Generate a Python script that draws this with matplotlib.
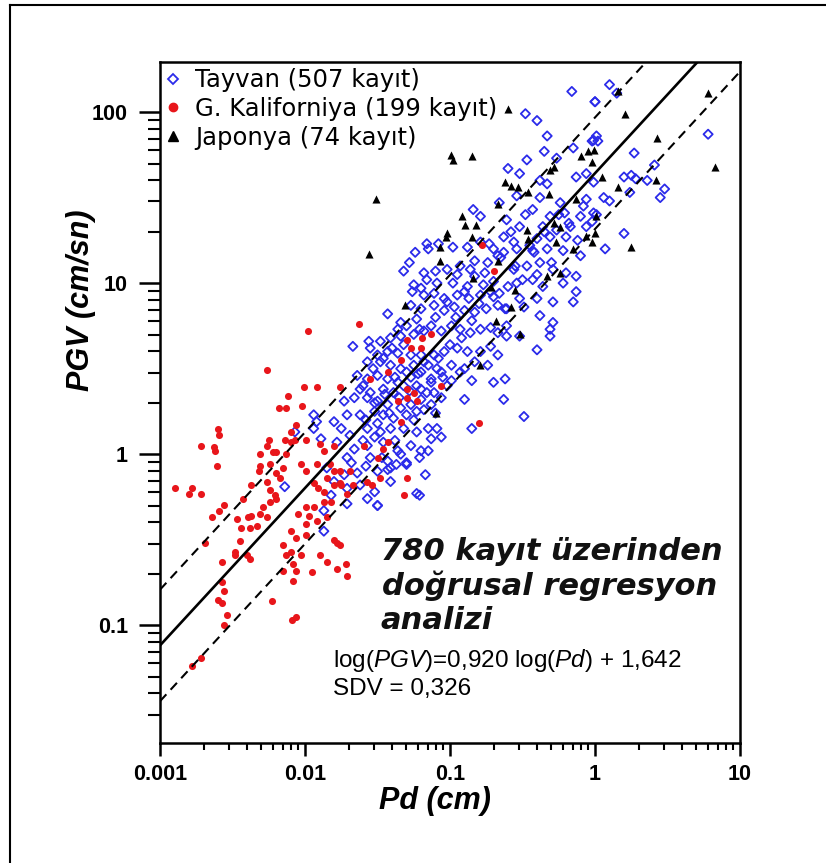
import numpy as np
import matplotlib
matplotlib.use("Agg")
import matplotlib.pyplot as plt
from matplotlib.lines import Line2D

# ---------------- data (log10 values) ----------------
# Taiwan (507 records) : log10(Pd [cm]), log10(PGV [cm/s])
taiwan_log_pd = [
    -1.16, -1.08, -0.98, -0.88, -0.79, -0.73, -1.24, -1.15, -1.32, -1.28, -1.18, -1.10, -1.02, -0.93,
    -0.83, -0.74, -0.67, -1.25, -1.20, -1.16, -1.09, -0.98, -0.88, -0.83, -0.77, -0.70, -1.26, -1.18,
    -1.11, -1.04, -0.95, -0.87, -0.79, -0.72, -1.43, -1.27, -1.20, -1.11, -1.02, -0.97, -0.90, -0.83,
    -0.75, -0.67, -1.34, -1.23, -1.36, -1.30, -1.21, -1.13, -1.06, -0.99, -0.93, -0.86, -0.79, -0.72,
    -0.67, -1.56, -1.48, -1.41, -1.34, -1.67, -1.55, -1.50, -1.43, -1.36, -1.27, -1.20, -1.11, -1.04,
    -0.95, -0.88, -0.79, -0.72, -0.67, -1.57, -1.48, -1.41, -1.34, -1.25, -1.18, -1.09, -0.99, -0.90,
    -0.83, -0.74, -1.64, -1.57, -1.50, -1.43, -1.36, -1.27, -1.20, -1.13, -1.06, -0.99, -0.93, -0.85,
    -0.70, -1.62, -1.55, -1.46, -1.39, -1.32, -1.23, -1.16, -1.11, -1.02, -0.90, -1.73, -1.66, -1.57,
    -1.50, -1.43, -1.34, -1.27, -1.20, -1.13, -1.06, -1.71, -1.62, -1.52, -1.46, -1.39, -1.30, -1.23,
    -1.15, -1.09, -1.13, -1.06, -0.85, -1.94, -1.92, -1.80, -1.75, -1.94, -1.69, -1.57, -1.48, -1.41,
    -1.32, -1.23, -1.89, -1.78, -1.66, -1.57, -1.46, -1.36, -1.27, -1.20, -1.15, -1.71, -1.55, -1.43,
    -1.34, -1.21, -1.85, -1.73, -1.64, -1.50, -1.41, -1.30, -1.17, -1.80, -1.71, -1.62, -1.52, -1.41,
    -1.21, -1.57, -1.71, -1.50, -1.82,
    -0.16, 0.00, -0.48, -0.40, -0.33, -0.35, -0.47, -0.60, -0.52, -0.265, -0.15, -0.02, 0.01, -0.13,
    -0.06, -0.01, -0.38, -0.33, -0.54, -0.24, -0.06, -0.10, -0.84, -0.79, -0.66, -0.43, -0.31, -0.21,
    -0.01, -0.61, -0.52, -0.36, -0.265, -0.17, -0.06, -0.63, -0.56, -0.40, -0.31, -0.20, -0.63, -0.54,
    -0.43, -0.33, -0.22, -0.10, -0.56, -0.47, -0.38, -0.29, -0.20, -0.13, -0.54, -0.43, -0.36, -0.22,
    -0.13, -0.66, -0.52, -0.40, -0.29, -0.15, -0.61, -0.49, -0.38, -0.29, -0.61, -0.52, -0.31, -0.61,
    -0.40, -0.31, -0.62, -0.63, -0.49,
    0.10, 0.15, 0.00, -0.01, 0.02, 0.27, 0.41, 0.20, 0.25, 0.28, 0.36, 0.48, 0.24, 0.45, 0.06, 0.10,
    0.01, 0.20, 0.07, 0.78, -0.02,
    -1.87, -1.87, -2.14, -2.07, -1.50, -1.23, -1.30, -1.43,
    -1.60, -1.53, -1.46, -1.40, -1.32, -1.25, -1.18, -1.10, -1.04, -0.96, -1.52, -1.45, -1.38, -1.30,
    -1.22, -1.15, -1.08, -1.00, -0.92, -1.58, -1.50, -1.42, -1.35, -1.28, -1.20, -1.13, -1.05, -1.60,
    -1.52, -1.38, -1.25, -1.18, -1.10, -1.68, -1.58, -1.47, -1.37,
    -0.95, -0.90, -0.86, -0.80, -0.76, -0.70, -0.65, -0.60, -0.55, -0.50, -0.45, -0.40, -0.35, -0.30,
    -0.25, -0.18, -0.12, -0.08, -0.70, -0.58, -0.48, -0.38, -0.42, -0.62, -0.85,
]
taiwan_log_pgv = [
    1.23, 1.23, 1.21, 1.21, 1.24, 1.23, 1.18, 1.20, 1.07, 1.12, 1.06, 1.07, 1.08, 1.10,
    1.13, 1.12, 1.16, 0.99, 0.97, 1.02, 1.00, 1.00, 0.98, 1.04, 0.99, 1.01, 0.95, 0.93,
    0.94, 0.91, 0.93, 0.91, 0.93, 0.95, 0.82, 0.87, 0.85, 0.87, 0.89, 0.86, 0.84, 0.83,
    0.85, 0.87, 0.77, 0.79, 0.73, 0.75, 0.73, 0.75, 0.72, 0.75, 0.73, 0.71, 0.73, 0.74,
    0.71, 0.66, 0.66, 0.68, 0.69, 0.63, 0.62, 0.58, 0.60, 0.59, 0.58, 0.58, 0.58, 0.60,
    0.62, 0.60, 0.60, 0.63, 0.58, 0.54, 0.54, 0.52, 0.50, 0.52, 0.54, 0.50, 0.52, 0.50,
    0.54, 0.52, 0.46, 0.44, 0.46, 0.44, 0.42, 0.45, 0.48, 0.44, 0.48, 0.43, 0.48, 0.43,
    0.42, 0.38, 0.36, 0.38, 0.36, 0.40, 0.40, 0.36, 0.36, 0.40, 0.32, 0.31, 0.33, 0.33,
    0.31, 0.29, 0.27, 0.29, 0.32, 0.29, 0.33, 0.23, 0.23, 0.25, 0.23, 0.21, 0.23, 0.25,
    0.15, 0.15, 0.09, 0.10, 0.15, 0.23, 0.19, 0.19, 0.15, 0.15, 0.11, 0.15, 0.13, 0.15,
    0.15, 0.13, 0.09, 0.07, 0.03, 0.05, 0.07, 0.02, 0.05, 0.02, 0.02, -0.02, -0.02, -0.04,
    0.00, -0.02, -0.08, -0.12, -0.11, -0.10, -0.08, -0.06, -0.12, -0.16, -0.20, -0.18, -0.22, -0.16,
    -0.24, -0.26, -0.29, -0.30, -0.24,
    2.12, 2.06, 1.99, 1.95, 1.86, 1.77, 1.72, 1.67, 1.64, 1.73, 1.79, 1.83, 1.86, 1.62,
    1.64, 1.59, 1.60, 1.58, 1.51, 1.47, 1.49, 1.39, 1.43, 1.39, 1.47, 1.43, 1.39, 1.41,
    1.41, 1.37, 1.33, 1.33, 1.31, 1.33, 1.33, 1.27, 1.24, 1.26, 1.27, 1.27, 1.18, 1.20,
    1.19, 1.20, 1.19, 1.16, 1.08, 1.10, 1.12, 1.08, 1.06, 1.04, 1.00, 1.02, 0.98, 1.00,
    0.95, 0.94, 0.91, 0.91, 0.89, 0.89, 0.85, 0.86, 0.81, 0.77, 0.75, 0.69, 0.73, 0.69,
    0.61, 0.69, 0.44, 0.32, 0.22,
    2.16, 2.11, 2.06, 1.835, 1.83, 1.76, 1.69, 1.62, 1.63, 1.61, 1.60, 1.55, 1.53, 1.50, 1.50, 1.48,
    1.40, 1.29, 1.20, 1.87, 1.36,
    -0.33, -0.45, -0.19, 0.13, -0.30, -0.23, -0.05, -0.09,
    0.40, 0.50, 0.56, 0.62, 0.64, 0.70, 0.72, 0.80, 0.84, 0.80, 0.30, 0.35, 0.45, 0.48,
    0.47, 0.52, 0.56, 0.64, 0.68, 0.20, 0.18, 0.24, 0.33, 0.37, 0.38, 0.42, 0.45, 0.08,
    0.10, 0.08, 0.20, 0.26, 0.24, -0.05, -0.07, -0.02, -0.06,
    1.05, 0.95, 1.08, 0.88, 1.06, 0.92, 1.15, 0.98, 1.10, 1.02, 1.22, 1.05, 1.30, 1.12,
    1.40, 1.35, 1.25, 1.45, 1.20, 1.30, 1.40, 1.50, 1.18, 0.85, 0.78,
]

# Southern California (199 records)
calif_log_pd = [
    -1.98, -1.63, -2.26, -2.01, -1.92, -1.76, -2.12, -2.18, -2.13, -2.02, -2.60, -2.59, -2.72, -2.63,
    -2.62, -2.61, -2.06, -2.10, -2.07, -1.99, -2.25, -2.26, -2.31, -2.22, -2.20, -2.14, -2.13, -1.90,
    -1.87, -1.80, -1.92, -1.83, -2.31, -2.32, -2.24, -2.15, -2.03, -1.99, -1.80, -1.76, -2.90, -2.78,
    -2.80, -2.72, -2.26, -2.17, -2.24, -2.21, -1.94, -1.91, -1.87, -1.80, -1.76, -1.85, -2.56, -2.59,
    -2.64, -2.20, -2.24, -2.29, -2.31, -2.26, -2.47, -2.39, -2.37, -2.44, -2.33, -2.45, -2.05, -1.99,
    -1.94, -1.97, -1.87, -1.82, -1.92, -1.85, -1.99, -1.99, -2.10, -2.06, -2.15, -2.10, -2.13, -2.03,
    -1.80, -1.78, -1.76, -2.69, -2.40, -2.48, -2.38, -2.57, -2.57, -2.08, -2.06, -2.15, -2.08, -1.95,
    -1.90, -1.85, -1.78, -1.72, -1.71, -2.56, -2.60, -2.57, -2.23, -2.54, -2.56, -2.09, -2.06, -2.72,
    -2.78, -2.43, -2.20, -2.37, -2.10, -2.38, -2.48, -1.69, -1.75, -1.71, -1.67,
    -1.30, -1.19, -1.13, -1.27, -1.20, -1.34, -1.43, -1.55, -1.30, -1.25, -1.30, -1.23, -1.36, -1.34,
    -1.06, -1.59, -1.46, -1.43, -1.50, -1.30, -1.32, -1.54, -1.57, -1.48, -0.80, -0.78, -0.70,
]
calif_log_pgv = [
    0.72, 0.76, 0.49, 0.39, 0.39, 0.39, 0.34, 0.27, 0.27, 0.28, 0.15, 0.11, 0.05, 0.04,
    0.02, -0.07, 0.17, 0.13, 0.08, 0.08, 0.08, 0.05, 0.00, 0.01, 0.01, 0.08, 0.00, 0.06,
    0.02, 0.05, -0.06, -0.06, -0.07, -0.10, -0.06, -0.08, -0.06, -0.10, -0.10, -0.10, -0.20, -0.20,
    -0.23, -0.23, -0.16, -0.14, -0.21, -0.24, -0.17, -0.20, -0.22, -0.18, -0.17, -0.14, -0.30, -0.33,
    -0.37, -0.26, -0.28, -0.31, -0.35, -0.37, -0.38, -0.37, -0.36, -0.43, -0.42, -0.51, -0.35, -0.31,
    -0.31, -0.36, -0.28, -0.28, -0.39, -0.37, -0.41, -0.47, -0.45, -0.49, -0.53, -0.57, -0.59, -0.59,
    -0.50, -0.52, -0.53, -0.52, -0.59, -0.59, -0.61, -0.63, -0.75, -0.64, -0.68, -0.68, -0.74, -0.69,
    -0.59, -0.63, -0.67, -0.64, -0.71, -0.80, -0.85, -0.87, -0.86, -0.94, -1.00, -0.97, -0.95, -1.19,
    -1.24, -0.26, -0.11, -0.18, 0.07, -0.43, -0.57, -0.10, -0.18, -0.23, -0.18,
    0.67, 0.68, 0.70, 0.62, 0.62, 0.55, 0.48, 0.44, 0.38, 0.36, 0.33, 0.31, 0.31, 0.19,
    0.40, 0.05, 0.03, 0.07, -0.02, -0.14, -0.24, -0.18, -0.16, -0.14, 0.18, 1.22, 1.07,
]

# Japan (74 records)
japan_log_pd = [
    -0.60, -0.99, -0.98, -0.85, -0.62, -0.58, -0.53, -0.46, -0.31, -0.28, -0.32, -0.67, -0.92, -0.90,
    -0.82, -1.02, -1.03, -0.85, -1.07, -0.47, -0.46, -0.28, -0.24, -0.13, -0.10, -0.05, -0.06, -0.02,
    -0.15, -0.67, -0.84, -0.72, -0.55, -0.33, -0.24, -0.58, -0.68, -0.52, -0.79, -0.27, -1.07,
    0.78, 0.16, 0.21, 0.43, 0.83, -0.01, -0.02, 0.05, 0.16, 0.42, 0.01, 0.00, 0.25,
    -1.56, -1.31, -1.10, -1.51,
]
japan_log_pgv = [
    2.02, 1.75, 1.72, 1.74, 1.59, 1.57, 1.56, 1.53, 1.66, 1.68, 1.52, 1.46, 1.39, 1.34,
    1.34, 1.29, 1.27, 1.27, 1.21, 1.31, 1.26, 1.35, 1.33, 1.49, 1.74, 1.77, 1.275, 1.24,
    1.20, 1.13, 1.03, 0.98, 0.96, 1.04, 1.06, 0.86, 0.78, 0.70, 0.52, 1.24, 1.13,
    2.11, 2.12, 1.99, 1.85, 1.68, 1.78, 1.71, 1.62, 1.56, 1.60, 1.39, 1.29, 1.21,
    1.17, 0.87, 0.24, 1.49,
]

labels = ["Tayvan (507 kayıt)", "G. Kaliforniya (199 kayıt)", "Japonya (74 kayıt)"]

# regression: log(PGV) = a log(Pd) + b, standard deviation sd
reg_a, reg_b, reg_sd = 0.920, 1.642, 0.326

x_ticks = [0.001, 0.01, 0.1, 1, 10]
x_ticklabels = ["0.001", "0.01", "0.1", "1", "10"]
y_ticks = [0.1, 1, 10, 100]
y_ticklabels = ["0.1", "1", "10", "100"]

# ---------------- figure ----------------
plt.rcParams['mathtext.fontset'] = 'custom'
plt.rcParams['mathtext.rm'] = 'Liberation Sans'
plt.rcParams['mathtext.it'] = 'Liberation Sans:italic'

fig = plt.figure(figsize=(8.26, 8.63), dpi=100)
ax = fig.add_axes([160/826, 1-743/863, 580/826, (743-62)/863])

blue = '#2b2bea'
red = '#e8161b'

ax.scatter(10**np.array(taiwan_log_pd), 10**np.array(taiwan_log_pgv), marker='D', s=22,
           facecolors='none', edgecolors=blue, linewidths=1.3, zorder=3)
ax.scatter(10**np.array(calif_log_pd), 10**np.array(calif_log_pgv), marker='o', s=26,
           color=red, linewidths=0, zorder=4)
ax.scatter(10**np.array(japan_log_pd), 10**np.array(japan_log_pgv), marker='^', s=34,
           color='black', linewidths=0, zorder=5)

xx = np.array([0.001, 10.0])
ax.plot(xx, 10**(reg_a*np.log10(xx) + reg_b), color='black', lw=1.9, zorder=6)
for sgn in (1, -1):
    ax.plot(xx, 10**(reg_a*np.log10(xx) + reg_b + sgn*reg_sd), color='black', lw=1.5,
            linestyle=(0, (4.5, 3.0)), zorder=6)

ax.set_xscale('log')
ax.set_yscale('log')
ax.set_xlim(0.001, 10)
ax.set_ylim(0.0205, 196)

ax.set_xticks(x_ticks)
ax.set_xticklabels(x_ticklabels)
ax.set_yticks(y_ticks)
ax.set_yticklabels(y_ticklabels)
ax.xaxis.set_minor_locator(matplotlib.ticker.LogLocator(base=10, subs=np.arange(2, 10), numticks=20))
ax.yaxis.set_minor_locator(matplotlib.ticker.LogLocator(base=10, subs=np.arange(2, 10), numticks=20))
ax.xaxis.set_minor_formatter(matplotlib.ticker.NullFormatter())
ax.yaxis.set_minor_formatter(matplotlib.ticker.NullFormatter())

ax.tick_params(axis='x', which='major', direction='out', length=9, width=1.8, pad=6)
ax.tick_params(axis='x', which='minor', direction='out', length=5, width=1.5)
ax.tick_params(axis='y', which='major', direction='out', length=15, width=1.8, pad=8)
ax.tick_params(axis='y', which='minor', direction='out', length=9, width=1.5)
ax.tick_params(top=False, right=False, which='both')
for lab in ax.get_xticklabels() + ax.get_yticklabels():
    lab.set_fontfamily('Liberation Sans')
    lab.set_fontweight('bold')
    lab.set_fontsize(15.5)
for sp in ax.spines.values():
    sp.set_linewidth(1.8)

label_font = dict(family=['Liberation Sans Narrow', 'Liberation Sans'], weight='bold', style='italic', size=22)
ax.set_xlabel('Pd (cm)', **label_font)
ax.set_ylabel('PGV (cm/sn)', **label_font)
ax.xaxis.set_label_coords(0.474, -0.063)
ax.yaxis.set_label_coords(-0.111, 0.65)
ax.yaxis.label.set_verticalalignment('bottom')

handles = [
    Line2D([], [], marker='D', markersize=5, markerfacecolor='none', markeredgecolor=blue,
           markeredgewidth=1.3, linestyle='none'),
    Line2D([], [], marker='o', markersize=6, color=red, linestyle='none'),
    Line2D([], [], marker='^', markersize=7, color='black', linestyle='none'),
]
leg = ax.legend(handles, labels, loc='upper left', frameon=False, handlelength=0.6,
                handletextpad=0.6, labelspacing=0.2, borderaxespad=0.2, borderpad=0.05,
                prop=dict(family='DejaVu Sans', size=17.5))

ann_font = dict(family='DejaVu Sans', weight='bold', style='italic', size=22, color='#111111')
ax.text(0.381, 0.268, "780 kayıt üzerinden", transform=ax.transAxes, **ann_font)
ax.text(0.383, 0.218, "doğrusal regresyon", transform=ax.transAxes, **ann_font)
ax.text(0.381, 0.168, "analizi", transform=ax.transAxes, **ann_font)
eq_font = dict(family='Liberation Sans', size=17.5)
ax.text(0.298, 0.112, r"log($\mathit{PGV}$)=0,920 log($\mathit{Pd}$) + 1,642",
        transform=ax.transAxes, **eq_font)
ax.text(0.298, 0.070, "SDV = 0,326", transform=ax.transAxes, **eq_font)

# outer frame (left and top edges)
fig.add_artist(Line2D([10/826, 10/826], [0, 1-5/863], transform=fig.transFigure, color='black', lw=1.5))
fig.add_artist(Line2D([10/826, 1], [1-5/863, 1-5/863], transform=fig.transFigure, color='black', lw=1.5))

fig.savefig('out.png', dpi=100)
